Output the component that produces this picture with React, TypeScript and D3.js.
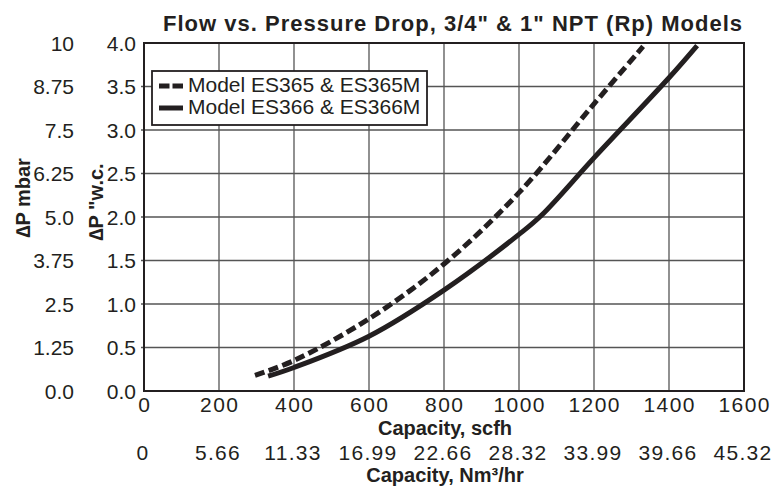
import React from 'react';
import * as d3 from 'd3';

// ES365 & ES365M (dashed)
const es365Flow = [296, 400, 600, 800, 1000, 1200, 1331];
const es365Drop = [0.18, 0.35, 0.83, 1.46, 2.28, 3.3, 3.96];

// ES366 & ES366M (solid)
const es366Flow = [331, 400, 600, 800, 1000, 1060, 1200, 1400, 1475];
const es366Drop = [0.17, 0.27, 0.63, 1.16, 1.8, 2.02, 2.68, 3.6, 3.97];

const scfhTicks = [0, 200, 400, 600, 800, 1000, 1200, 1400, 1600];
const nm3Labels = ['0', '5.66', '11.33', '16.99', '22.66', '28.32', '33.99', '39.66', '45.32'];
const inwcTicks = [0, 0.5, 1.0, 1.5, 2.0, 2.5, 3.0, 3.5, 4.0];
const mbarLabels = ['0.0', '1.25', '2.5', '3.75', '5.0', '6.25', '7.5', '8.75', '10'];

const seriesNames = ['Model ES365 & ES365M', 'Model ES366 & ES366M'];

const FONT = '"Liberation Sans", Arial, Helvetica, sans-serif';
const INK = '#231f20';

const App: React.FC = () => {
  const width = 773;
  const height = 487;
  const plot = { left: 144, right: 744, top: 43, bottom: 391 };

  const x = d3.scaleLinear().domain([0, 1600]).range([plot.left, plot.right]);
  const y = d3.scaleLinear().domain([0, 4]).range([plot.bottom, plot.top]);

  const line = d3
    .line<[number, number]>()
    .x(d => x(d[0]))
    .y(d => y(d[1]))
    .curve(d3.curveCatmullRom.alpha(0.5));

  const dashedPts = es365Flow.map((f, i) => [f, es365Drop[i]] as [number, number]);
  const solidPts = es366Flow.map((f, i) => [f, es366Drop[i]] as [number, number]);

  return (
    <svg
      width={width}
      height={height}
      style={{ position: 'absolute', left: 0, top: 0, background: '#fff' }}
      fontFamily={FONT}
    >
      <rect width={width} height={height} fill="#fff" />

      {/* grid */}
      {scfhTicks.slice(1, -1).map(t => (
        <line key={'vx' + t} x1={x(t)} x2={x(t)} y1={plot.top} y2={plot.bottom} stroke="#555" strokeWidth={1.3} />
      ))}
      {inwcTicks.slice(1, -1).map(t => (
        <line key={'hy' + t} x1={plot.left - 3} x2={plot.right} y1={y(t)} y2={y(t)} stroke="#555" strokeWidth={1.3} />
      ))}

      {/* frame */}
      <rect
        x={plot.left}
        y={plot.top}
        width={plot.right - plot.left}
        height={plot.bottom - plot.top}
        fill="none"
        stroke={INK}
        strokeWidth={2}
      />

      {/* curves */}
      <path d={line(dashedPts) || ''} fill="none" stroke={INK} strokeWidth={5} strokeDasharray="10,4.5" />
      <path d={line(solidPts) || ''} fill="none" stroke={INK} strokeWidth={5} />

      {/* legend */}
      <g>
        <rect x={152} y={71} width={275} height={54} fill="#fff" stroke={INK} strokeWidth={1.8} />
        <line x1={159} x2={183} y1={86} y2={86} stroke={INK} strokeWidth={5} strokeDasharray="10.5,3" />
        <line x1={159} x2={183} y1={108} y2={108} stroke={INK} strokeWidth={5} />
        <text x={188} y={91.5} fontSize={21} fill={INK}>{seriesNames[0]}</text>
        <text x={188} y={113.5} fontSize={21} fill={INK}>{seriesNames[1]}</text>
      </g>

      {/* title */}
      <text
        x={452.5}
        y={31}
        textAnchor="middle"
        fontSize={22}
        fontWeight="bold"
        fill={INK}
        textLength={579}
        lengthAdjust="spacing"
      >
        Flow vs. Pressure Drop, 3/4" &amp; 1" NPT (Rp) Models
      </text>

      {/* y tick labels */}
      {inwcTicks.map(t => (
        <text key={'yi' + t} x={136} y={y(t) + 7.5} textAnchor="end" fontSize={21} fill={INK}>
          {t.toFixed(1)}
        </text>
      ))}
      {inwcTicks.map((t, i) => (
        <text key={'ym' + t} x={74} y={y(t) + 7.5} textAnchor="end" fontSize={21} fill={INK}>
          {mbarLabels[i]}
        </text>
      ))}

      {/* y titles */}
      <text transform="translate(30,198) rotate(-90)" textAnchor="middle" fontSize={20} fontWeight="bold" fill={INK}>
        ∆P mbar
      </text>
      <text transform="translate(103,202) rotate(-90)" textAnchor="middle" fontSize={20} fontWeight="bold" fill={INK}>
        ∆P "w.c.
      </text>

      {/* x tick labels */}
      {scfhTicks.map(t => (
        <text key={'xs' + t} x={x(t) + 0.7} y={412} textAnchor="middle" fontSize={21} letterSpacing={1.4} fill={INK}>
          {t}
        </text>
      ))}
      {scfhTicks.map((t, i) => (
        <text key={'xn' + t} x={x(t) - 1} y={460} textAnchor="middle" fontSize={21} letterSpacing={1.3} fill={INK}>
          {nm3Labels[i]}
        </text>
      ))}

      {/* x titles */}
      <text x={445} y={435} textAnchor="middle" fontSize={20} fontWeight="bold" fill={INK}>
        Capacity, scfh
      </text>
      <text x={445} y={482} textAnchor="middle" fontSize={20} fontWeight="bold" fill={INK}>
        Capacity, Nm³/hr
      </text>
    </svg>
  );
};

export default App;
